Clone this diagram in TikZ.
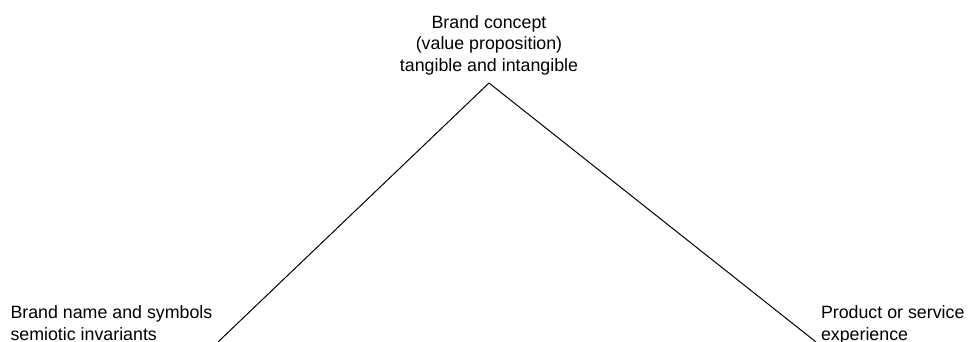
\documentclass[tikz,border=0pt]{standalone}
\usepackage{fontspec}
\setmainfont{Liberation Sans}
\begin{document}
\begin{tikzpicture}[x=1pt,y=-1pt,
  lbl/.style={inner sep=0pt, outer sep=0pt, font={\fontsize{17.8}{21.7}\selectfont}},
  edge/.style={draw=black, line width=1pt}]
\useasboundingbox[fill=white] (0,0) rectangle (970,342);
\node[lbl, align=center, anchor=base] (top) at (489,71.7) {Brand concept\\(value proposition)\\tangible and intangible};
\node[lbl, align=left, anchor=base west] (left) at (10.5,340) {Brand name and symbols\\semiotic invariants};
\node[lbl, align=left, anchor=base west] (right) at (821,340) {Product or service\\experience};
\coordinate (apex) at (489,83);
\coordinate (lend) at (218,342);
\coordinate (rend) at (816,342);
\draw[edge] (lend) -- (apex) -- (rend);
\end{tikzpicture}
\end{document}
